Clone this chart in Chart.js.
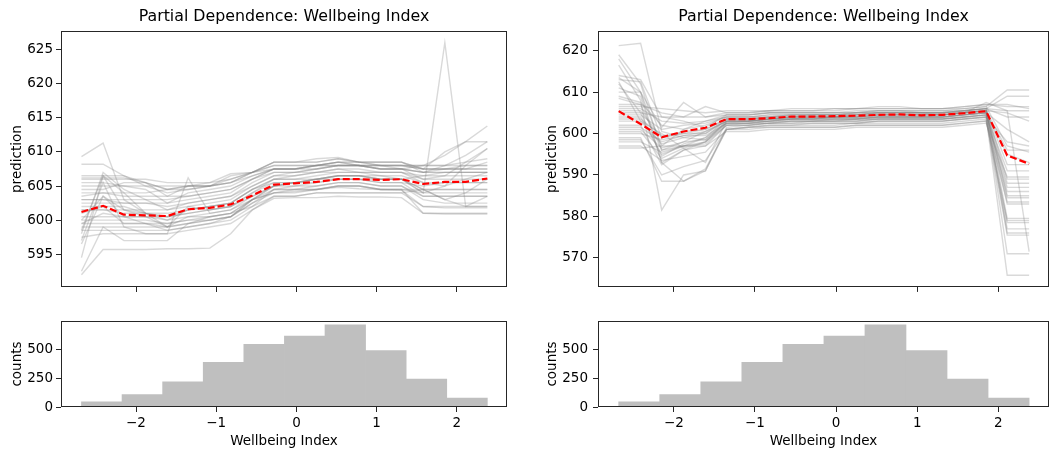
<!DOCTYPE html>
<html><head><meta charset="utf-8">
<script src="https://cdn.jsdelivr.net/npm/chart.js"></script>
<style>
html,body{margin:0;padding:0;background:#fff;}
#wrap{position:relative;width:1063px;height:452px;overflow:hidden;background:#fff;}
canvas{position:absolute;}
</style></head><body>
<div id="wrap">
<canvas id="c1" width="530" height="300" style="left:0;top:0;width:530px;height:300px"></canvas>
<canvas id="c2" width="533" height="300" style="left:530px;top:0;width:533px;height:300px"></canvas>
<canvas id="c3" width="530" height="152" style="left:0;top:300px;width:530px;height:152px"></canvas>
<canvas id="c4" width="533" height="152" style="left:530px;top:300px;width:533px;height:152px"></canvas>
</div>
<script>
const chartTitle = 'Partial Dependence: Wellbeing Index';
const xLabel = 'Wellbeing Index';
const yLabelTop = 'prediction';
const yLabelHist = 'counts';
const xTicks = [-2, -1, 0, 1, 2];
const yTicksLeft = [595, 600, 605, 610, 615, 620, 625];
const yTicksRight = [570, 580, 590, 600, 610, 620];
const countTicks = [0, 250, 500];

const xGrid = [-2.68, -2.41, -2.15, -1.88, -1.61, -1.35, -1.08, -0.82, -0.55, -0.28, -0.02, 0.25, 0.52, 0.78, 1.05, 1.31, 1.58, 1.85, 2.11, 2.38];

const pdLeft = [601.2, 602.1, 600.8, 600.7, 600.6, 601.6, 601.8, 602.3, 603.6, 605.2, 605.4, 605.6, 606.0, 606.0, 605.9, 606.0, 605.3, 605.6, 605.6, 606.1];
const pdRight = [605.4, 602.3, 599.1, 600.5, 601.4, 603.5, 603.5, 603.7, 604.1, 604.1, 604.2, 604.3, 604.5, 604.6, 604.4, 604.5, 604.9, 605.4, 594.7, 592.7];

const iceLeft = [
[592.0,595.7,595.7,595.7,595.8, 595.8,595.9,598.0,601.5,603.2, 603.3,603.3,603.5,603.4,603.4, 603.3,601.0,600.9,600.9,600.9],
[592.5,599.0,597.0,597.0,597.0, 599.5,600.0,600.5,602.5,604.0, 604.2,604.5,604.8,604.6,604.5, 604.4,602.0,601.8,601.8,601.8],
[594.5,606.5,604.0,601.0,599.0, 599.5,600.5,601.0,603.0,605.0, 605.5,606.0,606.5,606.5,606.0, 606.0,604.5,603.0,604.0,606.0],
[596.5,603.5,600.5,599.5,598.5, 599.0,599.5,600.0,602.0,604.5, 604.5,605.0,605.5,605.5,605.0, 605.0,603.0,602.5,602.5,602.5],
[597.5,598.0,598.0,598.0,598.0, 598.5,599.0,599.5,601.5,603.5, 603.5,604.0,604.0,604.0,604.0, 604.0,602.0,602.0,602.0,602.0],
[598.0,607.0,604.5,603.0,601.5, 602.5,603.0,603.5,605.0,606.5, 607.0,607.5,608.0,608.0,607.5, 607.5,606.0,606.5,608.5,610.5],
[598.5,598.5,598.5,598.5,598.5, 599.0,599.5,600.5,602.5,604.5, 604.5,604.5,605.0,605.0,604.5, 604.5,604.5,604.5,604.5,604.5],
[599.0,599.0,599.0,599.0,599.0, 599.5,600.0,600.5,603.0,605.0, 605.0,605.5,606.0,606.0,605.5, 605.5,603.5,603.5,603.5,603.5],
[599.5,601.0,600.5,600.5,600.0, 600.5,601.0,601.5,603.5,605.0, 605.5,605.5,606.0,606.0,605.5, 605.5,605.0,605.5,605.5,605.5],
[600.0,603.5,601.5,601.0,600.5, 601.0,601.5,602.0,604.0,605.5, 605.5,606.0,606.5,606.5,606.0, 606.0,604.0,604.0,604.0,604.0],
[600.5,600.5,600.5,600.5,600.5, 601.0,601.5,602.0,604.0,606.0, 606.0,606.5,607.0,607.0,606.5, 606.5,605.5,605.0,606.0,607.0],
[601.0,602.0,599.5,599.5,599.0, 602.0,601.5,602.0,603.5,605.0, 605.5,606.0,606.0,606.0,606.0, 606.0,604.5,604.5,604.5,604.5],
[601.5,601.5,601.5,601.5,601.5, 602.0,602.5,603.0,605.0,606.5, 606.5,607.0,607.0,607.0,607.0, 607.0,606.0,606.0,606.0,606.0],
[602.0,602.0,602.0,601.0,600.5, 601.5,602.0,602.5,604.5,605.5, 605.5,606.0,606.5,606.5,606.0, 606.0,606.5,607.0,607.0,607.0],
[602.5,602.5,602.5,602.5,602.0, 602.5,603.0,603.5,605.5,607.0, 607.0,607.0,607.5,607.5,607.0, 607.0,606.5,606.5,606.5,606.5],
[603.0,603.0,603.0,603.0,603.0, 603.5,604.0,604.5,606.0,607.5, 607.5,608.0,608.0,608.0,607.5, 607.5,607.0,607.0,607.0,607.0],
[603.5,604.0,603.5,603.5,603.5, 603.5,604.0,604.5,606.0,607.5, 607.5,608.0,608.5,608.5,608.0, 608.0,607.5,607.5,608.0,608.0],
[604.0,604.0,604.0,604.0,604.5, 604.5,605.0,605.5,607.0,608.5, 608.5,608.5,609.0,608.5,608.5, 608.5,607.5,607.5,607.5,607.5],
[604.5,604.5,605.5,605.5,604.5, 605.0,605.0,606.5,607.0,608.0, 608.0,608.0,608.5,608.0,608.0, 608.0,608.0,608.0,608.0,608.0],
[605.0,605.0,605.0,605.0,605.0, 605.0,605.0,605.5,606.5,607.5, 607.5,607.5,608.0,608.0,608.0, 607.5,607.0,608.0,609.5,611.5],
[605.5,605.5,605.0,604.5,602.5, 604.0,604.5,605.0,606.5,607.5, 607.5,608.0,608.5,608.0,608.0, 608.0,607.5,607.5,607.5,607.5],
[606.0,606.0,606.0,606.0,605.5, 605.5,605.5,606.0,607.0,608.0, 608.0,608.0,608.5,608.5,608.0, 608.0,608.0,608.0,608.5,609.0],
[606.5,606.5,606.5,605.0,604.0, 604.5,605.0,605.5,607.0,608.5, 608.5,608.5,609.0,608.5,608.5, 608.5,607.5,610.0,611.5,611.5],
[608.2,608.2,606.5,605.5,603.5, 605.0,605.0,606.0,607.0,608.5, 608.5,609.0,609.2,608.5,608.5, 608.5,607.0,607.0,607.0,607.0],
[609.3,611.3,603.0,601.0,600.0, 601.5,602.0,602.5,604.5,606.0, 606.5,607.0,607.5,607.0,607.0, 607.0,605.5,605.5,605.5,605.5],
[601.5,601.5,601.0,601.0,601.0, 601.5,602.0,602.5,604.5,606.0, 606.0,606.0,606.5,606.5,606.5, 606.0,604.0,626.0,602.0,602.0],
[603.0,603.0,602.5,602.5,602.5, 603.0,603.5,604.0,606.0,607.0, 607.0,607.5,608.0,608.0,607.5, 607.5,608.0,609.5,611.5,613.8],
[600.0,600.0,600.0,600.0,599.5, 600.0,600.0,600.5,603.0,604.0, 604.5,604.5,605.0,605.0,604.5, 604.5,601.0,601.0,601.0,601.0],
[597.0,605.5,599.0,598.0,598.0, 606.2,601.0,601.5,603.0,604.5, 605.0,605.0,605.5,605.5,605.0, 605.0,603.5,603.5,603.5,603.5],
[606.2,606.2,606.2,605.5,604.5, 605.0,605.5,606.8,607.0,607.5, 607.5,608.0,608.0,608.0,607.5, 607.5,607.0,607.5,607.5,608.5],
[599.5,599.5,599.5,599.5,599.5, 600.0,600.5,601.0,603.0,604.0, 604.0,604.5,605.0,605.0,604.5, 604.5,604.0,605.0,608.0,610.5],
[598.5,606.5,601.5,600.5,599.0, 600.5,600.5,601.0,602.0,603.5, 603.5,604.0,604.0,604.0,604.0, 604.0,604.5,603.0,602.0,603.5]
];

const iceRight = [
[621.2,621.8,600.5,599.0,598.5, 603.0,603.0,603.5,603.5,604.0, 604.0,604.0,604.5,604.5,604.5, 604.5,605.0,605.5,585.0,585.0],
[619.0,612.0,596.0,597.0,599.0, 603.5,603.5,604.0,604.5,604.5, 604.5,604.5,605.0,605.0,605.0, 605.0,605.5,606.0,579.5,579.5],
[618.0,610.0,593.0,596.0,598.0, 603.0,603.0,603.5,604.0,604.0, 604.0,604.5,604.5,604.5,604.5, 604.5,605.0,605.5,576.0,576.0],
[616.5,608.0,581.5,590.0,591.0, 601.5,602.0,602.5,603.0,603.0, 603.0,603.5,603.5,603.5,603.5, 603.5,604.0,604.5,571.0,571.0],
[614.0,613.0,604.0,603.0,601.5, 604.5,604.5,605.0,605.0,605.0, 605.0,605.5,605.5,605.5,605.5, 605.5,606.0,606.5,597.0,595.5],
[613.5,610.0,597.0,601.0,603.0, 604.0,604.0,604.5,604.5,604.5, 604.5,605.0,605.0,605.0,605.0, 605.0,605.5,606.0,589.0,589.0],
[613.0,612.5,599.0,600.0,601.0, 603.5,603.5,604.0,604.0,604.5, 604.5,604.5,605.0,605.0,605.0, 604.5,605.0,605.5,605.0,603.0],
[612.0,605.0,594.5,597.5,599.0, 602.5,602.5,603.0,603.5,603.5, 603.5,603.5,604.0,604.0,604.0, 604.0,604.5,605.0,583.0,583.0],
[611.0,609.0,593.0,588.5,591.0, 601.0,601.5,602.0,602.0,602.5, 602.5,602.5,603.0,603.0,603.0, 603.0,603.5,604.0,577.0,577.0],
[610.0,610.0,601.5,607.5,604.0, 605.0,605.0,605.5,605.5,605.5, 605.5,606.0,606.0,606.0,606.0, 606.0,606.0,606.5,610.5,610.5],
[608.5,607.0,596.0,598.0,600.5, 603.0,603.0,603.5,604.0,604.0, 604.0,604.0,604.5,604.5,604.5, 604.5,605.0,605.5,592.5,592.5],
[607.0,607.0,605.0,604.0,606.5, 605.0,605.0,605.5,605.5,605.5, 606.0,606.0,606.0,606.0,606.0, 606.0,606.5,607.0,606.5,606.5],
[606.0,606.0,603.0,602.5,603.0, 604.5,604.5,605.0,605.0,605.0, 605.0,605.0,605.5,605.5,605.5, 605.5,605.5,606.0,604.0,604.0],
[605.5,605.5,599.0,600.5,601.0, 603.5,603.5,604.0,604.0,604.0, 604.0,604.5,604.5,604.5,604.5, 604.5,605.0,605.5,596.0,596.0],
[605.0,605.0,604.0,604.0,604.0, 604.5,604.5,605.0,605.0,605.0, 605.0,605.0,605.5,605.5,605.0, 605.0,605.5,606.0,605.5,605.5],
[604.5,604.5,601.0,602.0,602.5, 604.0,604.0,604.0,604.5,604.5, 604.5,604.5,605.0,605.0,605.0, 605.0,605.0,605.5,588.0,588.0],
[604.0,604.0,595.0,597.0,598.0, 602.5,603.0,603.0,603.5,603.5, 603.5,603.5,604.0,604.0,604.0, 604.0,604.5,605.0,584.5,584.5],
[603.0,603.0,597.5,599.0,600.0, 603.0,603.0,603.5,603.5,603.5, 604.0,604.0,604.0,604.0,604.0, 604.0,604.5,605.0,601.0,598.0],
[602.0,602.0,592.5,596.0,597.0, 602.0,602.5,602.5,603.0,603.0, 603.0,603.0,603.5,603.5,603.5, 603.5,604.0,604.5,578.5,578.5],
[601.5,601.5,598.0,599.5,600.5, 603.0,603.0,603.0,603.5,603.5, 603.5,603.5,604.0,604.0,604.0, 604.0,604.5,605.0,595.0,593.0],
[601.0,601.0,596.5,598.0,598.5, 602.5,602.5,603.0,603.0,603.0, 603.5,603.5,603.5,603.5,603.5, 603.5,604.0,604.5,586.0,586.0],
[600.5,600.5,594.0,596.5,598.0, 602.0,602.0,602.5,602.5,603.0, 603.0,603.0,603.0,603.0,603.0, 603.0,603.5,604.0,565.8,565.8],
[600.0,600.0,598.5,599.5,599.5, 602.5,602.5,603.0,603.0,603.0, 603.0,603.0,603.5,603.5,603.5, 603.5,604.0,604.5,591.0,591.0],
[599.0,599.0,588.5,588.5,591.5, 601.0,601.5,602.0,602.0,602.0, 602.0,602.5,602.5,602.5,602.5, 602.5,603.0,603.5,575.5,575.5],
[598.5,598.5,590.0,592.0,593.5, 601.0,601.0,601.5,601.5,601.5, 601.5,602.0,602.0,602.0,602.0, 602.0,602.5,603.0,583.5,583.5],
[598.0,598.0,595.5,597.0,597.5, 602.0,602.0,602.5,602.5,602.5, 602.5,602.5,603.0,603.0,603.0, 603.0,603.5,604.0,598.0,597.0],
[597.0,597.0,593.5,594.5,595.5, 601.0,601.5,601.5,601.5,601.5, 601.5,602.0,602.0,602.0,602.0, 602.0,602.5,603.0,579.0,579.0],
[596.5,596.5,597.0,597.0,597.0, 600.5,600.5,601.0,601.0,601.0, 601.0,601.5,601.5,601.5,601.5, 601.5,602.0,602.5,589.5,589.5],
[606.5,606.5,606.0,605.5,605.0, 605.5,605.5,605.5,606.0,606.0, 606.0,606.0,606.5,606.5,606.0, 606.0,606.5,607.0,607.0,606.0],
[603.5,603.5,599.5,600.0,600.0, 603.5,603.5,603.5,604.0,604.0, 604.0,604.0,604.5,604.5,604.5, 604.5,605.0,607.5,605.5,571.5],
[609.0,607.5,602.0,601.0,602.0, 604.0,604.0,604.5,604.5,604.5, 604.5,605.0,605.0,605.0,605.0, 605.0,605.5,606.0,609.0,609.0],
[612.5,603.0,600.0,596.5,593.0, 603.0,603.0,603.5,603.5,603.5, 604.0,604.0,604.0,604.0,604.0, 604.0,604.5,605.0,587.0,587.0]
];

const binCenters = [-2.427, -1.921, -1.415, -0.909, -0.403, 0.103, 0.609, 1.115, 1.621, 2.127];
const binCounts = [45, 108, 218, 386, 542, 615, 711, 489, 242, 78];

const FONT = "'DejaVu Sans', sans-serif";
Chart.defaults.font.family = FONT;
Chart.defaults.font.size = 13.5;
Chart.defaults.color = '#000';
const TF = { family: FONT, size: 13.5 };
const AX = '#262626';
const fmt = v => (v < 0 ? '\u2212' + Math.abs(v) : String(v));
const fixTicks = vals => (s => { s.ticks = vals.map(v => ({ value: v })); });
const frame = {
  id: 'frame',
  afterDraw(chart) {
    const { ctx, chartArea: a } = chart;
    ctx.save();
    ctx.strokeStyle = AX;
    ctx.lineWidth = 1;
    ctx.strokeRect(Math.round(a.left) + 0.5, Math.round(a.top) + 0.5, Math.round(a.right - a.left) - 1, Math.round(a.bottom - a.top) - 1);
    ctx.restore();
  }
};
const gridOpts = len => ({ drawOnChartArea: false, drawTicks: true, tickLength: len, color: AX, tickColor: AX, offset: false });
const X_MIN = -2.935, X_MAX = 2.625;

function lineChart(id, ice, pd, yMin, yMax, yTicks, padL, padR, yW, yPad) {
  const datasets = ice.map(row => ({
    data: row.map((y, i) => ({ x: xGrid[i], y })),
    borderColor: 'rgba(128,128,128,0.3)', borderWidth: 1.4, pointRadius: 0, order: 1, tension: 0
  }));
  datasets.push({
    data: pd.map((y, i) => ({ x: xGrid[i], y })),
    borderColor: '#ff0000', borderWidth: 2.2, borderDash: [7, 3], pointRadius: 0, order: -1, tension: 0
  });
  new Chart(document.getElementById(id), {
    type: 'line',
    data: { datasets },
    options: {
      responsive: false, animation: false, devicePixelRatio: 1,
      layout: { padding: { left: padL, right: padR, top: 0, bottom: 0 } },
      plugins: {
        legend: { display: false }, tooltip: { enabled: false },
        title: { display: true, text: chartTitle, fullSize: false, color: '#000',
          font: { family: FONT, size: 15.8, weight: 'normal' }, padding: { top: 7.2, bottom: 5 } }
      },
      scales: {
        x: { type: 'linear', min: X_MIN, max: X_MAX, afterBuildTicks: fixTicks(xTicks),
          afterFit: s => { s.height = 13; }, ticks: { display: false },
          grid: gridOpts(5), border: { display: false } },
        y: { type: 'linear', min: yMin, max: yMax, afterBuildTicks: fixTicks(yTicks),
          afterFit: s => { s.width = yW; },
          ticks: { padding: yPad, callback: fmt, color: '#000', font: TF },
          grid: gridOpts(5), border: { display: false },
          title: { display: true, text: yLabelTop, color: '#000', font: TF, padding: 0 } }
      }
    },
    plugins: [frame]
  });
}

function histChart(id, padL, padR, yW, yPad) {
  new Chart(document.getElementById(id), {
    type: 'bar',
    data: { datasets: [{
      data: binCenters.map((x, i) => ({ x, y: binCounts[i] })),
      backgroundColor: '#bfbfbf', borderWidth: 0, barPercentage: 1, categoryPercentage: 1
    }] },
    options: {
      responsive: false, animation: false, devicePixelRatio: 1,
      layout: { padding: { left: padL, right: padR, top: 21, bottom: 0 } },
      plugins: { legend: { display: false }, tooltip: { enabled: false } },
      scales: {
        x: { type: 'linear', offset: false, min: X_MIN, max: X_MAX, afterBuildTicks: fixTicks(xTicks),
          afterFit: s => { s.height = 45; },
          ticks: { padding: 3, callback: fmt, color: '#000', maxRotation: 0, font: TF },
          grid: gridOpts(5), border: { display: false },
          title: { display: true, text: xLabel, color: '#000', font: TF, padding: { top: 0, bottom: 2.5 } } },
        y: { type: 'linear', min: 0, max: 745, afterBuildTicks: fixTicks(countTicks),
          afterFit: s => { s.width = yW; },
          ticks: { padding: yPad, callback: fmt, color: '#000', font: TF },
          grid: gridOpts(5), border: { display: false },
          title: { display: true, text: yLabelHist, color: '#000', font: TF, padding: 0 } }
      }
    },
    plugins: [frame]
  });
}

lineChart('c1', iceLeft, pdLeft, 590.2, 627.7, yTicksLeft, 9, 23, 52, 3);
lineChart('c2', iceRight, pdRight, 563.0, 624.7, yTicksRight, 14, 14, 54, 5);
histChart('c3', 9, 23, 52, 3);
histChart('c4', 14, 14, 54, 5);
</script>
</body></html>
